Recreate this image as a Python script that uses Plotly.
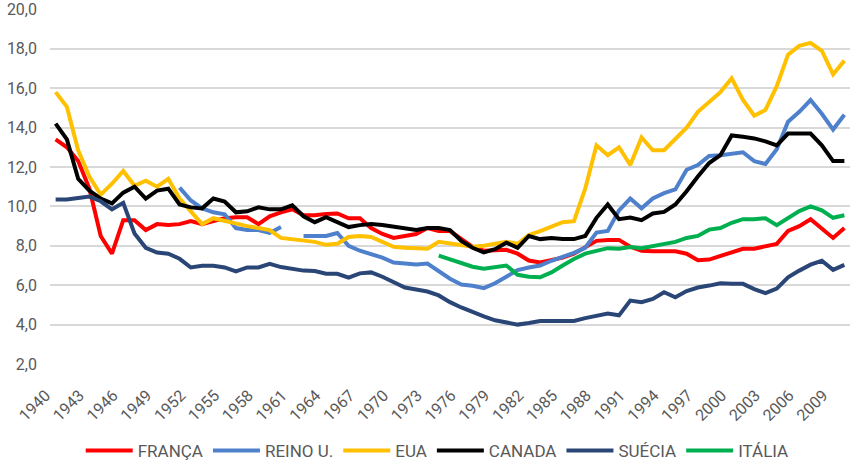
import plotly.graph_objects as go

years = list(range(1940, 2011))

franca = [13.4, 13.0, 12.3, 10.9, 8.5, 7.6, 9.3, 9.3, 8.8, 9.1,
          9.05, 9.1, 9.25, 9.1, 9.25, 9.4, 9.45, 9.45, 9.1, 9.5,
          9.7, 9.85, 9.55, 9.55, 9.62, 9.64, 9.4, 9.4, 8.9, 8.6,
          8.4, 8.5, 8.6, 8.9, 8.75, 8.75, 8.35, 7.95, 7.75, 7.8,
          7.8, 7.6, 7.25, 7.15, 7.25, 7.4, 7.6, 7.9, 8.25, 8.3,
          8.3, 7.95, 7.75, 7.72, 7.74, 7.72, 7.6, 7.27, 7.3, 7.5,
          7.65, 7.85, 7.85, 8.0, 8.1, 8.75, 9.0, 9.35, 8.85, 8.4,
          8.9]

reino_unido = [None, None, None, None, None, None, None, None, None, None,
               None, 10.95, 10.3, 9.9, 9.7, 9.6, 8.9, 8.8, 8.8, 8.65,
               8.95, None, 8.5, 8.5, 8.5, 8.65, 8.0, 7.75, 7.6, 7.4,
               7.15, 7.1, 7.05, 7.1, 6.73, 6.33, 6.03, 5.97, 5.85, 6.1,
               6.43, 6.77, 6.9, 7.0, 7.24, 7.44, 7.64, 7.9, 8.67, 8.75,
               9.8, 10.4, 9.9, 10.4, 10.67, 10.86, 11.86, 12.1, 12.56, 12.6,
               12.7, 12.75, 12.3, 12.15, 12.9, 14.3, 14.8, 15.4, 14.7, 13.9,
               14.65]

eua = [15.8, 15.05, 12.85, 11.5, 10.6, 11.15, 11.8, 11.05, 11.3, 11.0,
       11.4, 10.4, 9.75, 9.1, 9.4, 9.25, 9.1, 9.0, 8.9, 8.8,
       8.4, 8.35, 8.3, 8.2, 8.05, 8.1, 8.45, 8.5, 8.45, 8.2,
       7.95, 7.9, 7.85, 7.85, 8.2, 8.1, 8.05, 7.95, 8.0, 8.1,
       8.2, 8.1, 8.55, 8.75, 9.0, 9.2, 9.25, 10.9, 13.1, 12.6,
       13.0, 12.1, 13.5, 12.85, 12.85, 13.4, 14.0, 14.8, 15.3, 15.8,
       16.5, 15.4, 14.6, 14.9, 16.1, 17.7, 18.15, 18.3, 17.9, 16.7,
       17.4]

canada = [14.2, 13.4, 11.4, 10.8, 10.4, 10.15, 10.7, 11.0, 10.4, 10.8,
          10.9, 10.1, 9.95, 9.9, 10.4, 10.25, 9.7, 9.75, 9.95, 9.85,
          9.85, 10.05, 9.5, 9.2, 9.45, 9.2, 8.95, 9.05, 9.1, 9.05,
          8.95, 8.87, 8.8, 8.9, 8.9, 8.8, 8.25, 7.9, 7.66, 7.83,
          8.16, 7.9, 8.5, 8.34, 8.4, 8.34, 8.34, 8.5, 9.42, 10.1,
          9.35, 9.43, 9.3, 9.64, 9.72, 10.1, 10.77, 11.52, 12.2, 12.6,
          13.6, 13.53, 13.45, 13.3, 13.1, 13.7, 13.7, 13.7, 13.1, 12.3,
          12.3]

suecia = [10.35, 10.35, 10.43, 10.5, 10.26, 9.85, 10.18, 8.63, 7.9, 7.66,
          7.6, 7.34, 6.9, 6.99, 6.99, 6.9, 6.7, 6.9, 6.9, 7.08,
          6.92, 6.82, 6.74, 6.72, 6.58, 6.58, 6.38, 6.6, 6.65, 6.43,
          6.15, 5.88, 5.78, 5.68, 5.48, 5.14, 4.87, 4.62, 4.42, 4.22,
          4.1, 4.0, 4.08, 4.18, 4.18, 4.18, 4.18, 4.33, 4.46, 4.56,
          4.47, 5.22, 5.14, 5.3, 5.64, 5.39, 5.7, 5.88, 5.98, 6.1,
          6.07, 6.07, 5.8, 5.6, 5.83, 6.4, 6.74, 7.04, 7.24, 6.78,
          7.03]

italia = [None] * 34 + [
          7.5, 7.3, 7.15, 6.94, 6.84, 6.94,
          7.0, 6.53, 6.43, 6.4, 6.65, 7.0, 7.33, 7.6, 7.74, 7.88,
          7.85, 7.94, 7.88, 8.0, 8.1, 8.2, 8.4, 8.5, 8.82, 8.9,
          9.17, 9.35, 9.35, 9.4, 9.05, 9.42, 9.76, 10.0, 9.8, 9.42,
          9.55]

series_names = ["FRANÇA", "REINO U.", "EUA", "CANADA", "SUÉCIA", "ITÁLIA"]
series_values = [franca, reino_unido, eua, canada, suecia, italia]
series_colors = ["#FF0000", "#4E80CC", "#FFC000", "#000000", "#2A4677", "#00B050"]

tick_years = list(range(1940, 2011, 3))
y_ticks = [2, 4, 6, 8, 10, 12, 14, 16, 18, 20]

fig = go.Figure()
for name, vals, col in zip(series_names, series_values, series_colors):
    fig.add_trace(go.Scatter(
        x=years, y=vals, name=name, mode="lines",
        line=dict(color=col, width=4),
        connectgaps=False,
    ))

font_family = "Liberation Sans Narrow, Roboto, sans-serif"

fig.update_layout(
    width=850, height=470,
    margin=dict(l=50, r=0, t=7, b=106),
    paper_bgcolor="white", plot_bgcolor="white",
    separators=",.",
    font=dict(family=font_family, color="#595959"),
    showlegend=True,
    legend=dict(orientation="h", x=0.484, xanchor="center", y=-0.245, yanchor="middle",
                font=dict(size=17, color="#595959", family=font_family),
                itemwidth=47, tracegroupgap=0),
)
fig.update_xaxes(
    range=[1939.5, 2010.5],
    tickmode="array", tickvals=tick_years, ticktext=[str(t) for t in tick_years],
    tickangle=-45, tickfont=dict(size=16, color="#595959", family=font_family),
    ticklabelstandoff=18, ticklabelshift=-10,
    showgrid=False, showline=False, zeroline=False, ticks="",
)
fig.update_yaxes(
    range=[2, 20.02], tickmode="array", tickvals=y_ticks, tickformat=".1f",
    tickfont=dict(size=16, color="#595959", family=font_family),
    ticklabelstandoff=12, ticklabeloverflow="allow",
    showgrid=True, gridcolor="#D9D9D9", gridwidth=1.5,
    zeroline=False, showline=False, ticks="",
)

fig.write_html("out.html", config={"displayModeBar": False},
               post_script="document.body.style.margin='0';document.body.style.overflow='hidden';")
